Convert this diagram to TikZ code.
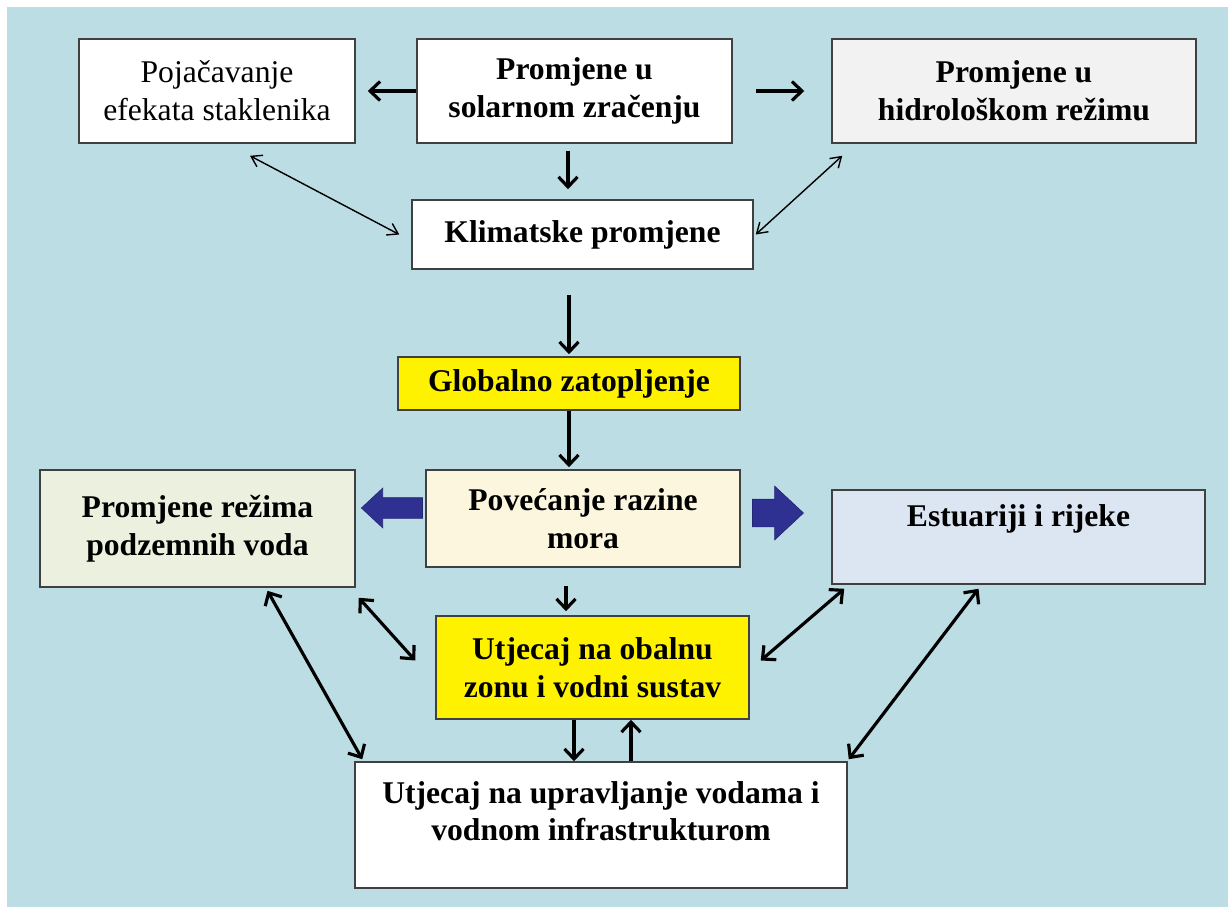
\documentclass[tikz,border=0pt]{standalone}
\usepackage{fontspec}
\setmainfont{Liberation Serif}
\usetikzlibrary{arrows.meta, positioning, shapes.arrows}
\definecolor{bgA}   {RGB}{188, 221, 227}
\definecolor{lineA} {RGB}{64,  64,  64}
\definecolor{greyA} {RGB}{242, 242, 242}
\definecolor{greenA}{RGB}{235, 241, 222}
\definecolor{creamA}{RGB}{253, 246, 222}
\definecolor{blueA} {RGB}{220, 230, 242}
\definecolor{darkA} {RGB}{46,  49,  146}

\begin{document}
\begin{tikzpicture}[x=0.02cm, y=-0.02cm,
  box/.style={draw=lineA, line width=0.9pt, rectangle, align=center, inner sep=0pt,
    font=\fontsize{18}{21.6}\selectfont\bfseries},
  lbl/.style={align=center, inner sep=0pt, font=\fontsize{18}{21.6}\selectfont\bfseries},
  arr/.style={-{Straight Barb[length=0.2cm, width=0.38cm]}, line width=1.8pt},
  darr/.style={{Straight Barb[length=0.2cm, width=0.38cm]}-{Straight Barb[length=0.2cm, width=0.38cm]}, line width=1.8pt},
  tarr/.style={{Straight Barb[length=0.2cm, width=0.26cm]}-{Straight Barb[length=0.2cm, width=0.26cm]}, line width=0.8pt},
  blk/.style={single arrow, fill=darkA, draw=darkA!80!black, line width=0.4pt, inner sep=0pt, single arrow tip angle=86}]
  \useasboundingbox (0,0) rectangle (1228,907);
  \fill[bgA] (7,7) rectangle (1228,907);

  % top row
  \node[box, fill=white, font=\fontsize{18}{21.6}\selectfont, minimum width=5.52cm, minimum height=2.08cm] (poj) at (217,91) {Pojačavanje\\efekata staklenika};
  \node[box, fill=white,  minimum width=6.30cm, minimum height=2.08cm] (sol) at (574.5,91) {Promjene u\\solarnom zračenju};
  \node[box, fill=greyA,  minimum width=7.28cm, minimum height=2.08cm] (hid) at (1014,91) {Promjene u\\hidrološkom režimu};
  \node[box, fill=white,  minimum width=6.82cm, minimum height=1.38cm] (klim) at (582.5,234.5) {Klimatske promjene};
  \node[box, fill=yellow, minimum width=6.84cm, minimum height=1.06cm] (glob) at (569,383.5) {Globalno zatopljenje};

  % middle row
  \node[box, fill=creamA, minimum width=6.28cm, minimum height=1.94cm] (pov) at (583,518.5) {Povećanje razine\\mora};
  \node[box, fill=greenA, minimum width=6.30cm, minimum height=2.34cm] (pod) at (197.5,528.5) {Promjene režima\\podzemnih voda};
  \node[box, fill=blueA,  minimum width=7.46cm, minimum height=1.88cm] (est) at (1018.5,537) {};
  \node[lbl] (estT) at ([yshift=-0.6cm]est.north) {Estuariji i rijeke};

  % bottom
  \node[box, fill=yellow, minimum width=6.26cm, minimum height=2.06cm] (oba) at (592.5,667.5) {Utjecaj na obalnu\\zonu i vodni sustav};
  \node[box, fill=white,  minimum width=9.84cm, minimum height=2.52cm] (upr) at (601,825) {};
  \node[lbl] (uprT) at ([yshift=-1.0cm]upr.north) {Utjecaj na upravljanje vodama i\\vodnom infrastrukturom};

  % arrows
  \draw[arr, shorten >=0.24cm] (sol.west) -- (poj.east);
  \draw[arr, shorten <=0.46cm, shorten >=0.54cm] (sol.east) -- (hid.west);
  \draw[arr, shorten <=0.14cm, shorten >=0.2cm] ([xshift=-0.13cm]sol.south) -- ([xshift=-0.13cm]sol.south |- klim.north);
  \draw[arr, shorten <=0.5cm, shorten >=0.04cm] (glob.north |- klim.south) -- (glob.north);
  \draw[arr, shorten >=0.04cm] (glob.south) -- (glob.south |- pov.north);
  \draw[arr, shorten <=0.36cm, shorten >=0.08cm] ([xshift=-0.34cm]pov.south) -- ([xshift=-0.34cm]pov.south |- oba.north);
  \draw[arr] ([xshift=-0.37cm]oba.south) -- ([xshift=-0.37cm]oba.south |- upr.north);
  \draw[arr] ([xshift=0.6cm]upr.north) -- ([xshift=0.6cm]upr.north |- oba.south);

  \draw[tarr] ([shift={(33,12)}]poj.south) -- ([shift={(-12,0)}]klim.west);
  \draw[tarr] ([shift={(11,12)}]hid.south west) -- ([shift={(2,0)}]klim.east);

  \draw[darr] ([shift={(3,10)}]pod.south east) -- ([shift={(-20,-7)}]oba.west);
  \draw[darr] ([shift={(70,3)}]pod.south) -- ([shift={(8,-2)}]upr.north west);
  \draw[darr] ([shift={(13,4)}]est.south west) -- ([shift={(11,-7)}]oba.east);
  \draw[darr] ([shift={(-40,4)}]est.south) -- ([shift={(1,-2)}]upr.north east);

  % block arrows
  \node[blk, shape border rotate=180, minimum height=1.22cm, inner ysep=0.2cm, single arrow head extend=0.19cm] (toPod) at (397.5,508) {};
  \node[blk, minimum height=1.02cm, inner ysep=0.27cm, single arrow head extend=0.26cm] (toEst) at (770.5,513) {};
\end{tikzpicture}
\end{document}
